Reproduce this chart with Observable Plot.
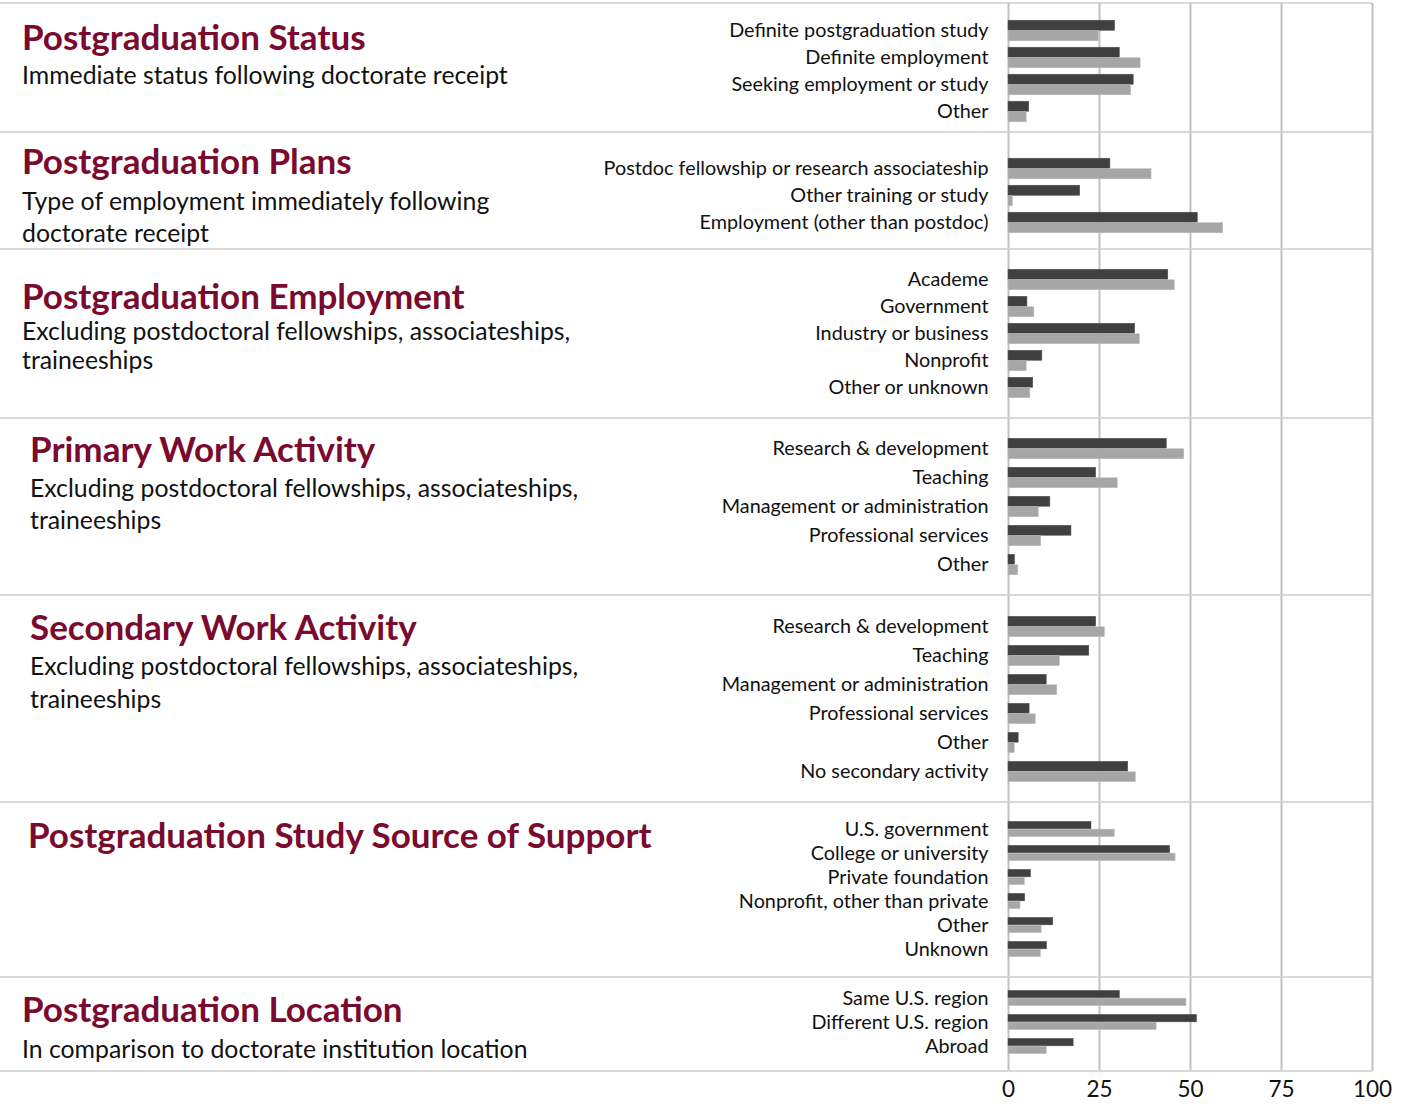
<!DOCTYPE html>
<html><head><meta charset="utf-8">
<script src="https://cdn.jsdelivr.net/npm/d3@7"></script>
<script src="https://cdn.jsdelivr.net/npm/@observablehq/plot@0.6"></script>
<style>
body{margin:0;background:#fff;font-family:Lato,"Noto Sans",sans-serif;}
#root{position:relative;width:1406px;height:1105px;overflow:hidden;}
.sep{position:absolute;left:0;width:1372px;height:2px;background:#d9d9d9;}
.title{position:absolute;font-weight:bold;color:#7a0a2e;font-size:35px;white-space:nowrap;}
.sub{position:absolute;color:#111;font-size:24.8px;white-space:nowrap;}
.plot{position:absolute;left:540px;}
</style></head>
<body><div id="root"></div>
<script>
// ---- data ----
const statusCats = ["Definite postgraduation study","Definite employment","Seeking employment or study","Other"];
const statusDark = [29.3,30.6,34.4,5.7];
const statusLight = [24.8,36.3,33.7,5.0];

const plansCats = ["Postdoc fellowship or research associateship","Other training or study","Employment (other than postdoc)"];
const plansDark = [28.0,19.7,52.0];
const plansLight = [39.3,1.2,59.0];

const employCats = ["Academe","Government","Industry or business","Nonprofit","Other or unknown"];
const employDark = [43.9,5.2,34.8,9.3,6.8];
const employLight = [45.7,7.1,36.1,5.0,6.0];

const primaryCats = ["Research & development","Teaching","Management or administration","Professional services","Other"];
const primaryDark = [43.5,24.1,11.5,17.3,1.8];
const primaryLight = [48.3,30.0,8.3,9.0,2.7];

const secondaryCats = ["Research & development","Teaching","Management or administration","Professional services","Other","No secondary activity"];
const secondaryDark = [24.1,22.2,10.5,5.8,2.8,32.9];
const secondaryLight = [26.5,14.1,13.4,7.5,1.7,35.0];

const supportCats = ["U.S. government","College or university","Private foundation","Nonprofit, other than private","Other","Unknown"];
const supportDark = [22.8,44.4,6.2,4.6,12.3,10.6];
const supportLight = [29.2,45.9,4.5,3.3,9.1,8.9];

const locationCats = ["Same U.S. region","Different U.S. region","Abroad"];
const locationDark = [30.6,51.8,17.9];
const locationLight = [48.9,40.7,10.5];

const xTicks = [0,25,50,75,100];

const titles = ["Postgraduation Status","Postgraduation Plans","Postgraduation Employment","Primary Work Activity","Secondary Work Activity","Postgraduation Study Source of Support","Postgraduation Location"];
const subtitles = [
  ["Immediate status following doctorate receipt"],
  ["Type of employment immediately following","doctorate receipt"],
  ["Excluding postdoctoral fellowships, associateships,","traineeships"],
  ["Excluding postdoctoral fellowships, associateships,","traineeships"],
  ["Excluding postdoctoral fellowships, associateships,","traineeships"],
  [],
  ["In comparison to doctorate institution location"]
];
const sectionCats = [statusCats,plansCats,employCats,primaryCats,secondaryCats,supportCats,locationCats];
const sectionDark = [statusDark,plansDark,employDark,primaryDark,secondaryDark,supportDark,locationDark];
const sectionLight = [statusLight,plansLight,employLight,primaryLight,secondaryLight,supportLight,locationLight];

// ---- layout (pixels) ----
const layout = [
  {top:3,   h:129, mt:13,   mb:6.4,  bar:10.5, tx:22, ty:38,  sy:[75],      sl:32},
  {top:132, h:117, mt:22.3, mb:12.5, bar:10.5, tx:22, ty:162, sy:[201],     sl:32},
  {top:249, h:169, mt:15.5, mb:16,   bar:10.5, tx:22, ty:297, sy:[331],     sl:29},
  {top:418, h:177, mt:14.75,mb:14.75,bar:10.5, tx:30, ty:450, sy:[488],     sl:32.5},
  {top:595, h:207, mt:15.2, mb:14.2, bar:10.5, tx:30, ty:628, sy:[666],     sl:33},
  {top:802, h:175, mt:13.85,mb:15.35,bar:7.8,  tx:28, ty:836, sy:[],        sl:30},
  {top:977, h:94,  mt:8.85, mb:12.25,bar:7.8,  tx:22, ty:1010,sy:[1049],    sl:30}
];
const bottomLine = 1071;
const axisH = 1105 - bottomLine;

const root = document.getElementById("root");
const ML = 468, MR = 34, W = 1406 - 540;
const font = "Lato, 'Noto Sans', sans-serif";

layout.forEach((L, i) => {
  const sep = document.createElement("div");
  sep.className = "sep"; sep.style.top = (L.top - 1) + "px";
  root.appendChild(sep);

  const t = document.createElement("div");
  t.className = "title"; t.textContent = titles[i];
  t.style.left = L.tx + "px"; t.style.top = (L.ty - 23) + "px"; t.style.lineHeight = "42px";
  root.appendChild(t);

  subtitles[i].forEach((line, j) => {
    const s = document.createElement("div");
    s.className = "sub"; s.textContent = line;
    s.style.left = L.tx + "px"; s.style.top = (L.sy[0] + j * L.sl - 16.5) + "px"; s.style.lineHeight = "32px";
    root.appendChild(s);
  });

  const cats = sectionCats[i];
  const rows = [];
  cats.forEach((c, k) => {
    rows.push({cat: c, series: "dark", value: sectionDark[i][k]});
    rows.push({cat: c, series: "light", value: sectionLight[i][k]});
  });
  const step = (L.h - L.mt - L.mb) / cats.length;
  const half = step / 2;
  const last = i === layout.length - 1;
  const H = L.h + (last ? axisH : 0);

  const marks = [
    Plot.ruleX(xTicks, {stroke: "#c0c0c0", strokeWidth: 2}),
    Plot.barX(rows.filter(d => d.series === "dark"), {x: "value", y: "cat", fill: "#404040", stroke: "#555", strokeWidth: 0.5, insetTop: half - L.bar, insetBottom: half}),
    Plot.barX(rows.filter(d => d.series === "light"), {x: "value", y: "cat", fill: "#a6a6a6", stroke: "#bdbdbd", strokeWidth: 0.5, insetTop: half, insetBottom: half - L.bar}),
    Plot.axisY({tickSize: 0, tickPadding: 20, fontSize: 19.8, fill: "#111", label: null})
  ];
  if (last) marks.push(Plot.axisX({ticks: xTicks, tickSize: 0, tickPadding: 10, fontSize: 22.5, fill: "#111", label: null}));

  const chart = Plot.plot({
    width: W, height: H,
    marginLeft: ML, marginRight: MR, marginTop: 0, marginBottom: last ? axisH : 0,
    style: {fontFamily: font, background: "transparent", overflow: "visible"},
    x: {domain: [0, 100], axis: null, label: null},
    y: {domain: cats, range: [L.mt, L.h - L.mb], padding: 0, axis: null, label: null},
    marks
  });
  chart.classList.add("plot");
  chart.style.top = L.top + "px";
  root.appendChild(chart);
});
const endSep = document.createElement("div");
endSep.className = "sep"; endSep.style.top = (bottomLine - 1) + "px";
root.appendChild(endSep);
</script>
</body></html>
